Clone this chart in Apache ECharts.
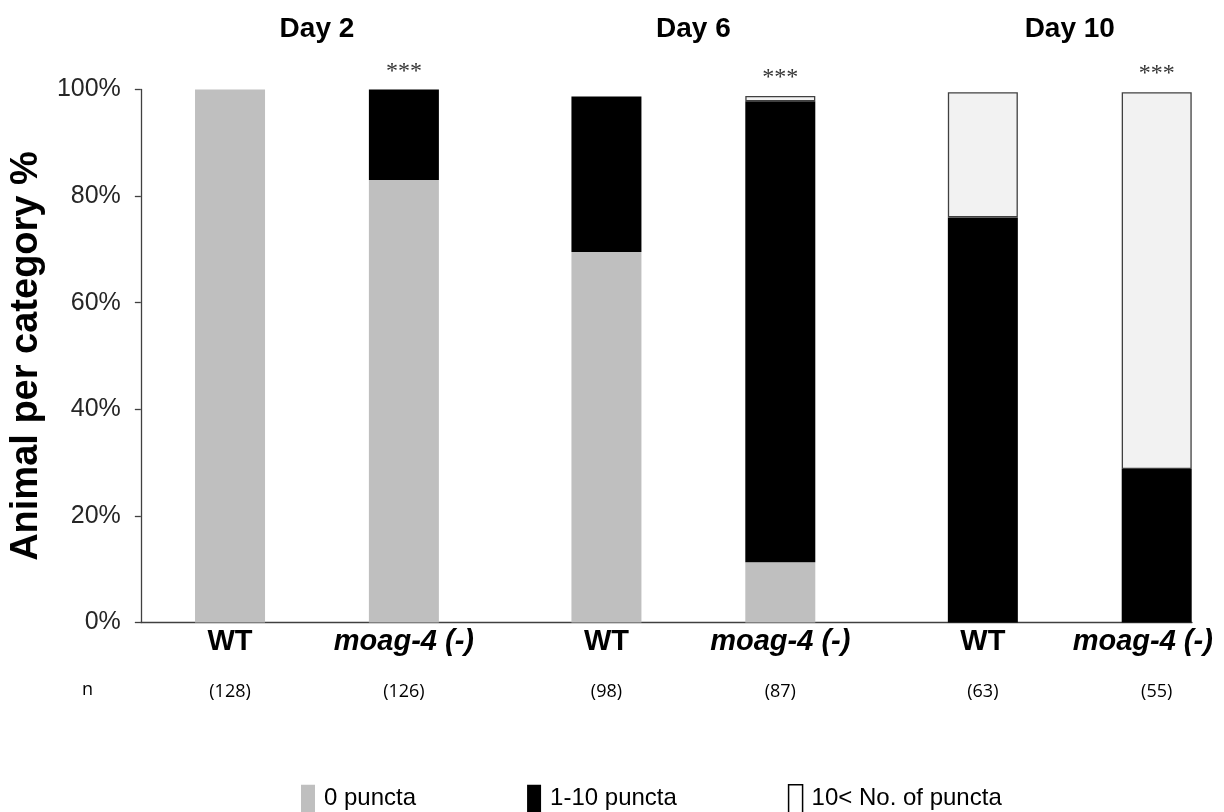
<!DOCTYPE html>
<html><head><meta charset="utf-8">
<script src="https://cdn.jsdelivr.net/npm/echarts@6/dist/echarts.min.js"></script>
<style>html,body{margin:0;padding:0;background:#fff}#c{width:1224px;height:812px}</style>
</head><body><div id="c"></div>
<script>
// ---- data ----
const days = ['Day 2', 'Day 6', 'Day 10'];
const strains = ['WT', 'moag-4 (-)', 'WT', 'moag-4 (-)', 'WT', 'moag-4 (-)'];
const nCounts = ['(128)', '(126)', '(98)', '(87)', '(63)', '(55)'];
const zeroPuncta = [100, 83, 69.5, 11.3, 0, 0];
const oneToTenPuncta = [0, 17, 29.2, 86.5, 76.0, 28.8];
const overTenPuncta = [0, 0, 0, 1.0, 23.5, 70.7];
const significance = ['', '***', '', '***', '', '***'];
const seriesNames = ['0 puncta', '1-10 puncta', '10< No. of puncta'];

// ---- layout (slot positions on the x scale: 2 strains per day, wider gap between days) ----
const dayStep = 2.165;
const xPos = strains.map((s, i) => Math.floor(i / 2) * dayStep + (i % 2));
const dayPos = days.map((d, g) => g * dayStep + 0.5);
const xMin = -0.513, xMax = 5.533;
const nearest = (arr, v) => { let b = 0; arr.forEach((p, i) => { if (Math.abs(p - v) < Math.abs(arr[b] - v)) b = i; }); return b; };

const FONT = "'Liberation Sans', Arial, sans-serif";
const chart = echarts.init(document.getElementById('c'), null, { renderer: 'canvas' });

// value first, position second, so the stacked dimension is the value
function items(arr, hideZero) {
  return arr.map((v, i) => {
    if (hideZero && v === 0) {
      return significance[i] ? { value: [0, xPos[i]], itemStyle: { borderWidth: 0, color: 'transparent' } } : { value: ['-', xPos[i]] };
    }
    return [v, xPos[i]];
  });
}

const option = {
  animation: false,
  backgroundColor: '#fff',
  grid: { left: 140, right: 32, top: 89.5, bottom: 189.5 },
  legend: {
    top: 779, left: 296, itemGap: 111, itemWidth: 14, itemHeight: 28,
    selectedMode: false, icon: 'rect',
    textStyle: { fontFamily: FONT, fontSize: 24, color: '#000', padding: [0, 0, 0, 4] },
    data: [
      { name: seriesNames[0], itemStyle: { color: '#bfbfbf', borderWidth: 0 } },
      { name: seriesNames[1], itemStyle: { color: '#000', borderWidth: 0 } },
      { name: seriesNames[2], itemStyle: { color: '#fff', borderColor: '#000', borderWidth: 1.5 } }
    ]
  },
  xAxis: [
    {
      type: 'value', min: xMin, max: xMax, position: 'bottom',
      splitLine: { show: false },
      axisLine: { show: true, onZero: false, lineStyle: { color: '#404040', width: 1.3 } },
      axisTick: { show: false },
      axisLabel: {
        customValues: xPos, margin: 5, hideOverlap: false,
        formatter: v => { const i = nearest(xPos, v); const s = i % 2 === 0 ? 'wt' : (i === strains.length - 1 ? 'moLast' : 'mo'); return '{' + s + '|' + strains[i] + '}'; },
        rich: {
          wt: { fontFamily: FONT, fontSize: 29, fontWeight: 'bold', color: '#000' },
          mo: { fontFamily: FONT, fontSize: 29, fontWeight: 'bold', fontStyle: 'italic', color: '#000' },
          moLast: { fontFamily: FONT, fontSize: 29, fontWeight: 'bold', fontStyle: 'italic', color: '#000', padding: [0, 28, 0, 0] }
        }
      }
    },
    {
      type: 'value', min: xMin, max: xMax, position: 'bottom',
      splitLine: { show: false }, axisLine: { show: false, onZero: false }, axisTick: { show: false },
      axisLabel: {
        customValues: xPos, margin: 60, hideOverlap: false,
        fontFamily: "'Open Sans', sans-serif", fontSize: 18, color: '#000',
        formatter: v => nCounts[nearest(xPos, v)]
      }
    },
    {
      type: 'value', min: xMin, max: xMax, position: 'top',
      splitLine: { show: false }, axisLine: { show: false, onZero: false }, axisTick: { show: false },
      axisLabel: {
        customValues: dayPos, margin: 46, hideOverlap: false,
        fontFamily: FONT, fontSize: 28, fontWeight: 'bold', color: '#000',
        formatter: v => days[nearest(dayPos, v)]
      }
    }
  ],
  yAxis: {
    type: 'value', min: 0, max: 100, interval: 20,
    name: 'Animal per category %', nameLocation: 'middle', nameRotate: 90, nameGap: 87,
    nameTextStyle: { fontFamily: FONT, fontSize: 38, fontWeight: 'bold', color: '#000' },
    splitLine: { show: false },
    axisLine: { show: true, onZero: false, lineStyle: { color: '#404040', width: 1.3 } },
    axisTick: { show: true, length: 6, lineStyle: { color: '#404040', width: 1.3 } },
    axisLabel: {
      fontFamily: FONT, fontSize: 25, color: '#262626', margin: 20,
      formatter: v => v + '%'
    }
  },
  graphic: [
    { type: 'text', left: 82, top: 681, style: { text: 'n', fontFamily: "'Open Sans', sans-serif", fontSize: 18, fill: '#000' } }
  ],
  series: [
    { name: seriesNames[0], type: 'bar', stack: 'total', barWidth: 70, encode: { x: 1, y: 0 },
      data: items(zeroPuncta, true), itemStyle: { color: '#bfbfbf' } },
    { name: seriesNames[1], type: 'bar', stack: 'total', barWidth: 70, encode: { x: 1, y: 0 },
      data: items(oneToTenPuncta, true), itemStyle: { color: '#000' } },
    { name: seriesNames[2], type: 'bar', stack: 'total', barWidth: 70, encode: { x: 1, y: 0 },
      data: items(overTenPuncta, true),
      itemStyle: { color: '#f2f2f2', borderColor: '#404040', borderWidth: 1.3 },
      label: {
        show: true, position: 'top', distance: 6,
        fontFamily: "'Liberation Serif', 'DejaVu Serif', serif", fontSize: 24, color: '#333',
        formatter: p => significance[p.dataIndex]
      } }
  ]
};
chart.setOption(option);
</script></body></html>
